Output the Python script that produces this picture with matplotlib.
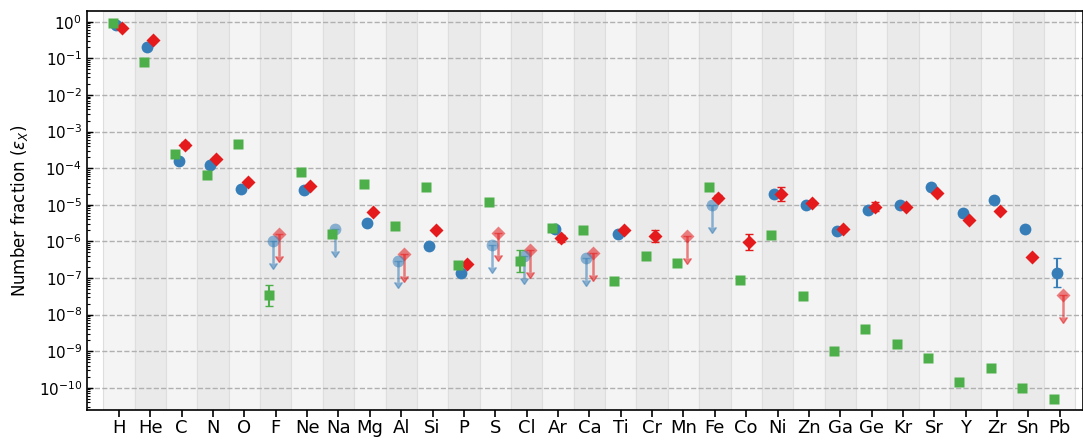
import numpy as np
import matplotlib
matplotlib.use("Agg")
import matplotlib.pyplot as plt
from matplotlib.ticker import LogLocator, NullFormatter, LogFormatterSciNotation

nan = np.nan

elements = ['H', 'He', 'C', 'N', 'O', 'F', 'Ne', 'Na', 'Mg', 'Al', 'Si', 'P', 'S',
            'Cl', 'Ar', 'Ca', 'Ti', 'Cr', 'Mn', 'Fe', 'Co', 'Ni', 'Zn', 'Ga', 'Ge',
            'Kr', 'Sr', 'Y', 'Zr', 'Sn', 'Pb']

# blue series: measured values and upper limits
blue_val = [0.81, 0.2, 1.6e-4, 1.2e-4, 2.7e-5, nan, 2.5e-5, nan, 3.2e-6, nan, 7.5e-7,
            1.4e-7, nan, nan, 2.2e-6, nan, 1.6e-6, nan, nan, nan, nan, 1.96e-5,
            9.6e-6, 1.9e-6, 7.1e-6, 9.8e-6, 2.96e-5, 5.9e-6, 1.37e-5, 2.2e-6, 1.4e-7]
blue_err_dex = [0, 0, 0, 0, 0, 0, 0, 0, 0, 0, 0, 0, 0, 0, 0, 0, 0, 0, 0, 0, 0, 0,
                0, 0, 0, 0, 0, 0, 0, 0, 0.4]
blue_lim = [nan, nan, nan, nan, nan, 1.0e-6, nan, 2.2e-6, nan, 3.0e-7, nan, nan,
            8.0e-7, 3.9e-7, nan, 3.5e-7, nan, nan, nan, 1.0e-5, nan, nan, nan, nan,
            nan, nan, nan, nan, nan, nan, nan]

# red series
red_val = [0.69, 0.32, 4.3e-4, 1.8e-4, 4.2e-5, nan, 3.2e-5, nan, 6.2e-6, nan, 2.1e-6,
           2.4e-7, nan, nan, 1.2e-6, nan, 2.1e-6, 1.4e-6, nan, 1.55e-5, 9.6e-7, 2.0e-5,
           1.1e-5, 2.2e-6, 8.8e-6, 8.6e-6, 2.1e-5, 3.9e-6, 6.7e-6, 3.7e-7, nan]
red_err_dex = [0, 0, 0.07, 0.04, 0.04, 0, 0.03, 0, 0.03, 0, 0.03, 0.03, 0, 0, 0.1,
               0, 0.04, 0.17, 0, 0.07, 0.21, 0.19, 0.05, 0.06, 0.12, 0.04, 0.03,
               0.03, 0.03, 0.03, 0]
red_lim = [nan, nan, nan, nan, nan, 1.6e-6, nan, nan, nan, 4.6e-7, nan, nan, 1.7e-6,
           5.9e-7, nan, 4.8e-7, nan, nan, 1.4e-6, nan, nan, nan, nan, nan, nan, nan,
           nan, nan, nan, nan, 3.4e-8]

# green series
green_val = [0.93, 0.079, 2.5e-4, 6.3e-5, 4.5e-4, 3.4e-8, 7.8e-5, 1.6e-6, 3.6e-5,
             2.6e-6, 2.96e-5, 2.3e-7, 1.2e-5, 2.9e-7, 2.3e-6, 2.0e-6, 8.1e-8, 4.0e-7,
             2.5e-7, 3.0e-5, 8.9e-8, 1.5e-6, 3.3e-8, 1.0e-9, 4.1e-9, 1.6e-9, 6.7e-10,
             1.45e-10, 3.4e-10, 1.0e-10, 5.1e-11]
green_err_dex = [0, 0, 0, 0, 0, 0.29, 0, 0, 0, 0, 0, 0, 0, 0.3, 0, 0, 0, 0, 0, 0, 0,
                 0, 0, 0, 0, 0, 0, 0, 0, 0, 0]

BLUE, RED, GREEN = '#377eb8', '#e41a1c', '#4daf4a'
ARROW_DEX = 0.6


def dex_err(vals, dex):
    v = np.asarray(vals, float)
    d = np.asarray(dex, float)
    return np.vstack([v - v * 10 ** -d, v * 10 ** d - v])


def lim_err(vals):
    v = np.asarray(vals, float)
    return v - v * 10 ** -ARROW_DEX


x = np.arange(len(elements))

fig = plt.figure(figsize=(10.83, 4.41), dpi=100)
ax = fig.add_axes([0.0803, 0.07, 0.92, 0.9057])

for i in x:
    ax.axvspan(i - 0.5, i + 0.5, color='#f4f4f4' if i % 2 == 0 else '#eaeaea',
               ec='#dedede', lw=0.8, zorder=0)

# upper limits
ax.errorbar(x + 0.1, red_lim, yerr=lim_err(red_lim), uplims=True, fmt='D', ms=7,
            color=RED, alpha=0.55, mec='none', capsize=3, elinewidth=1.8, zorder=3)
ax.errorbar(x - 0.1, blue_lim, yerr=lim_err(blue_lim), uplims=True, fmt='o', ms=8.5,
            color=BLUE, alpha=0.55, mec='none', capsize=3, elinewidth=1.8, zorder=3)

# detections
ax.errorbar(x - 0.1, blue_val, yerr=dex_err(blue_val, blue_err_dex), fmt='o', ms=8.5,
            color=BLUE, mec='none', capsize=3, elinewidth=1.5, zorder=4)
ax.errorbar(x + 0.1, red_val, yerr=dex_err(red_val, red_err_dex), fmt='D', ms=7,
            color=RED, mec='none', capsize=3, elinewidth=1.5, zorder=5)
ax.errorbar(x - 0.2, green_val, yerr=dex_err(green_val, green_err_dex), fmt='s', ms=7,
            color=GREEN, mec='none', capsize=3, elinewidth=1.5, zorder=6)

ax.set_yscale('log')
ax.set_ylim(10 ** -10.61, 10 ** 0.3)
ax.set_xlim(-1.02, 30.75)
ax.set_yticks(10.0 ** np.arange(-10, 1))
ax.yaxis.set_major_formatter(LogFormatterSciNotation())
ax.yaxis.set_minor_locator(LogLocator(base=10, subs=np.arange(2, 10), numticks=30))
ax.yaxis.set_minor_formatter(NullFormatter())
ax.grid(axis='y', which='major', ls='--', color='#b0b0b0', lw=1, zorder=1)
ax.set_axisbelow(True)

ax.set_xticks(x)
ax.set_xticklabels(elements, fontsize=13)
ax.tick_params(axis='x', direction='out', length=5, width=1.2, pad=1.5)
ax.tick_params(axis='y', which='major', direction='in', length=4, width=1, labelsize=11)
ax.tick_params(axis='y', which='minor', direction='in', length=2, width=0.8)
ax.set_ylabel(r'Number fraction ($\varepsilon_X$)', fontsize=12, labelpad=6)
for s in ax.spines.values():
    s.set_linewidth(1.2)

fig.savefig('out.png', dpi=100)
